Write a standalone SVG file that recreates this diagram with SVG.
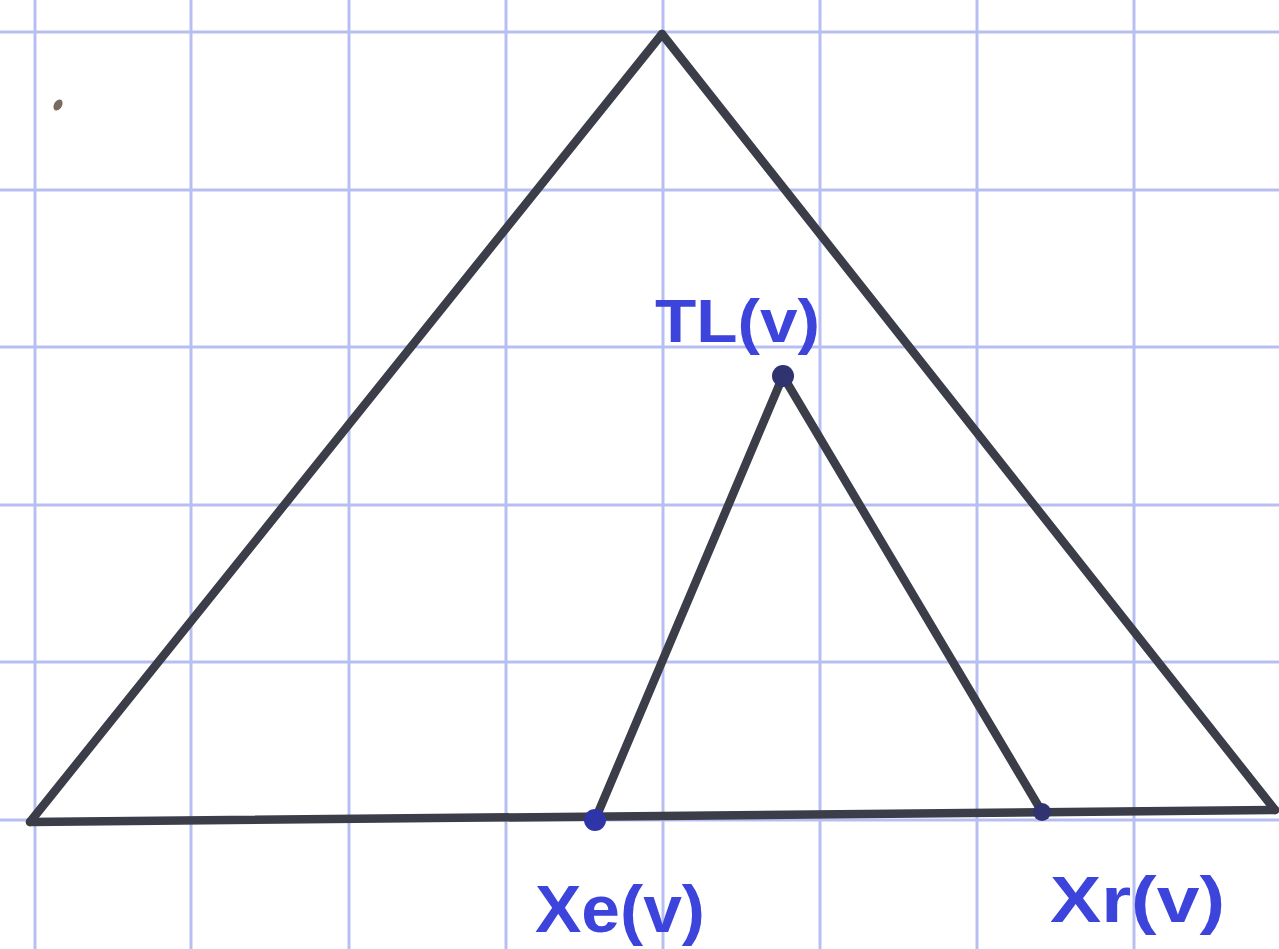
<svg xmlns="http://www.w3.org/2000/svg" width="1279" height="949" viewBox="0 0 1279 949">
<style>
.grid line{stroke:#b7bff2;stroke-width:3}
.edge{stroke:#3b3d48;stroke-width:8.5;stroke-linecap:round;fill:none}
.lbl{font-family:"Liberation Sans",Arial,sans-serif;font-weight:bold;fill:#3c44dc}
.pt{fill:#2f3370}
</style>
<rect width="1279" height="949" fill="#ffffff"/>
<g class="grid">
<line x1="35" y1="0" x2="35" y2="949"/>
<line x1="191" y1="0" x2="191" y2="949"/>
<line x1="349" y1="0" x2="349" y2="949"/>
<line x1="506" y1="0" x2="506" y2="949"/>
<line x1="663" y1="0" x2="663" y2="949"/>
<line x1="820" y1="0" x2="820" y2="949"/>
<line x1="977" y1="0" x2="977" y2="949"/>
<line x1="1134" y1="0" x2="1134" y2="949"/>
<line x1="0" y1="32" x2="1279" y2="32"/>
<line x1="0" y1="190" x2="1279" y2="190"/>
<line x1="0" y1="347" x2="1279" y2="347"/>
<line x1="0" y1="505" x2="1279" y2="505"/>
<line x1="0" y1="662" x2="1279" y2="662"/>
<line x1="0" y1="820" x2="1279" y2="820"/>
</g>
<ellipse cx="58" cy="105" rx="4" ry="6" fill="#7a6a60" transform="rotate(30 58 105)"/>
<g id="connectors">
<line class="edge" x1="662" y1="34" x2="30" y2="822"/>
<line class="edge" x1="662" y1="34" x2="1275" y2="810"/>
<line class="edge" x1="30" y1="822" x2="1275" y2="810"/>
<line class="edge" x1="783" y1="376" x2="595" y2="820"/>
<line class="edge" x1="783" y1="376" x2="1042" y2="812"/>
</g>
<g id="node-top"><circle class="pt" cx="783" cy="376" r="11"/><text class="lbl" x="655" y="342" font-size="62" textLength="165" lengthAdjust="spacingAndGlyphs">TL(v)</text></g>
<g id="node-xl"><circle cx="595" cy="820" r="11" fill="#2f35a8"/><text class="lbl" x="535" y="932" font-size="66" textLength="170" lengthAdjust="spacingAndGlyphs">Xe(v)</text></g>
<g id="node-xr"><circle class="pt" cx="1042" cy="812" r="9"/><text class="lbl" x="1050" y="922" font-size="64" textLength="175" lengthAdjust="spacingAndGlyphs">Xr(v)</text></g>
</svg>
